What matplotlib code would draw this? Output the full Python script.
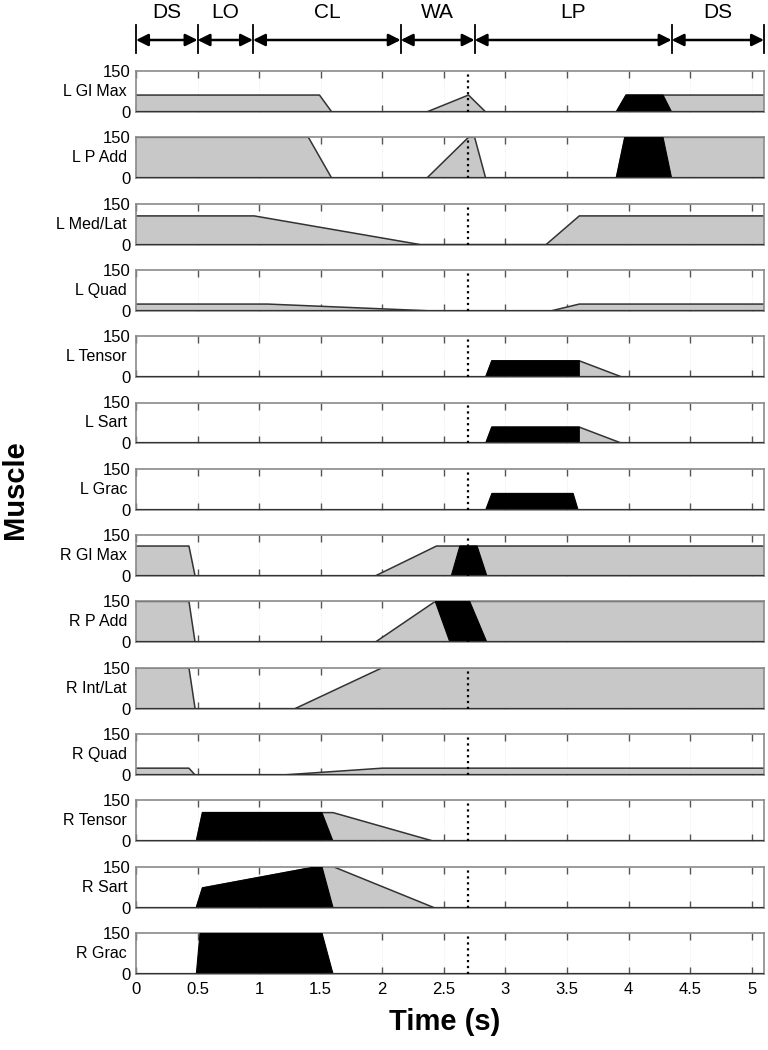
import matplotlib
matplotlib.use("Agg")
import matplotlib.pyplot as plt
import numpy as np

# phases along the top
phase_names = ['DS', 'LO', 'CL', 'WA', 'LP', 'DS']
phase_edges = [0, 0.5, 0.95, 2.15, 2.75, 4.35, 5.1]
event_time = 2.7

muscles = ['L Gl Max', 'L P Add', 'L Med/Lat', 'L Quad', 'L Tensor', 'L Sart', 'L Grac',
           'R Gl Max', 'R P Add', 'R Int/Lat', 'R Quad', 'R Tensor', 'R Sart', 'R Grac']

# grey (passive) profiles: time / value pairs
gray_t = [
    [0, 1.49, 1.59, 2.36, 2.70, 2.84, 3.90, 3.98, 5.1],
    [0, 1.40, 1.59, 2.36, 2.70, 2.75, 2.84, 3.90, 3.97, 5.1],
    [0, 0.96, 2.31, 3.33, 3.60, 5.1],
    [0, 1.07, 2.40, 3.37, 3.60, 5.1],
    [2.84, 2.89, 3.60, 3.95],
    [2.84, 2.89, 3.60, 3.95],
    [],
    [0, 0.43, 0.48, 1.94, 2.44, 5.1],
    [0, 0.43, 0.48, 1.94, 2.43, 5.1],
    [0, 0.43, 0.48, 1.29, 2.00, 5.1],
    [0, 0.43, 0.48, 1.19, 2.00, 5.1],
    [0.49, 0.54, 1.60, 2.42],
    [0.49, 0.54, 1.47, 1.60, 2.42],
    [],
]
gray_v = [
    [62, 62, 0, 0, 62, 0, 0, 62, 62],
    [150, 150, 0, 0, 150, 150, 0, 0, 150, 150],
    [105, 105, 0, 0, 105, 105],
    [25, 25, 0, 0, 25, 25],
    [0, 60, 60, 0],
    [0, 60, 60, 0],
    [],
    [110, 110, 0, 0, 110, 110],
    [150, 150, 0, 0, 150, 150],
    [150, 150, 0, 0, 150, 150],
    [25, 25, 0, 0, 25, 25],
    [0, 105, 105, 0],
    [0, 72, 150, 150, 0],
    [],
]

# black (active) profiles
black_t = [
    [3.90, 3.98, 4.28, 4.35],
    [3.90, 3.97, 4.28, 4.35],
    [], [],
    [2.84, 2.89, 3.60, 3.60],
    [2.84, 2.89, 3.60, 3.60],
    [2.84, 2.89, 3.55, 3.59],
    [2.56, 2.63, 2.77, 2.85],
    [2.55, 2.43, 2.71, 2.85],
    [], [],
    [0.49, 0.54, 1.51, 1.60],
    [0.49, 0.54, 1.47, 1.51, 1.60],
    [0.49, 0.52, 1.51, 1.60],
]
black_v = [
    [0, 62, 62, 0],
    [0, 150, 150, 0],
    [], [],
    [0, 60, 60, 0],
    [0, 60, 60, 0],
    [0, 60, 60, 0],
    [0, 110, 110, 0],
    [0, 150, 150, 0],
    [], [],
    [0, 105, 105, 0],
    [0, 72, 150, 150, 0],
    [0, 150, 150, 0],
]

xticks = [0, 0.5, 1, 1.5, 2, 2.5, 3, 3.5, 4, 4.5, 5]
xticklabels = ['0', '0.5', '1', '1.5', '2', '2.5', '3', '3.5', '4', '4.5', '5']

narrow = ['Liberation Sans Narrow', 'Liberation Sans', 'DejaVu Sans']
W, H = 768, 1050
fig = plt.figure(figsize=(W / 100, H / 100), dpi=100)

left, right = 136, 764
top0, ph, step = 71, 41, 66.3
gray_c = '#c8c8c8'
frame_c = '#8a8a8a'

# header with phase arrows
hax = fig.add_axes([left / W, 1 - 62 / H, (right - left) / W, 62 / H])
hax.set_xlim(0, 5.1)
hax.set_ylim(62, 0)
hax.axis('off')
for e in phase_edges:
    hax.plot([e, e], [25, 53], color='black', lw=1.3, clip_on=False)
for i, name in enumerate(phase_names):
    a, b = phase_edges[i], phase_edges[i + 1]
    hax.annotate('', xy=(a, 40), xytext=(b, 40),
                 arrowprops=dict(arrowstyle='<|-|>', color='black', lw=1.8,
                                 mutation_scale=18, shrinkA=0, shrinkB=0))
    hax.text((a + b) / 2, 13, name, ha='center', va='center', fontsize=15, family=narrow)

for i, m in enumerate(muscles):
    top = top0 + i * step
    ax = fig.add_axes([left / W, 1 - (top + ph) / H, (right - left) / W, ph / H])
    ax.set_xlim(0, 5.1)
    ax.set_ylim(0, 150)
    for x in xticks:
        ax.axvline(x, color='#e6e6e6', lw=0.6, ls=':', zorder=0)
    if gray_t[i]:
        ax.fill_between(gray_t[i], gray_v[i], 0, facecolor=gray_c, lw=0, zorder=2)
        ax.plot(gray_t[i], gray_v[i], color='#333333', lw=1.1, zorder=2.5)
    if black_t[i]:
        ax.fill(black_t[i], black_v[i], facecolor='black', edgecolor='black', lw=0.8, zorder=3)
    ax.axhline(0, color='#333333', lw=1.6, zorder=4)
    ax.axvline(event_time, color='black', ls=':', lw=1.6, zorder=5)
    for s in ax.spines.values():
        s.set_color(frame_c)
        s.set_linewidth(1.2)
    ax.set_yticks([0, 150])
    ax.set_yticklabels(['0', '150'], family=narrow, fontsize=12)
    ax.tick_params(axis='y', length=0, pad=4)
    ax.set_xticks(xticks)
    ax.tick_params(axis='x', direction='in', length=5, width=1, color='#555555',
                   top=True, bottom=True, pad=6)
    if i == len(muscles) - 1:
        ax.set_xticklabels(xticklabels, family=narrow, fontsize=12)
    else:
        ax.set_xticklabels([])
    fig.text(127 / W, 1 - (top + ph / 2) / H, m, ha='right', va='center',
             fontsize=11.5, family=narrow)

fig.text(15 / W, 1 - 490 / H, 'Muscle', rotation=90, ha='center', va='center',
         fontsize=21, fontweight='bold', family=['Liberation Sans', 'DejaVu Sans'])
fig.text(445 / W, 1 - 1022 / H, 'Time (s)', ha='center', va='center',
         fontsize=21, fontweight='bold', family=narrow)

fig.savefig('out.png', dpi=100)
